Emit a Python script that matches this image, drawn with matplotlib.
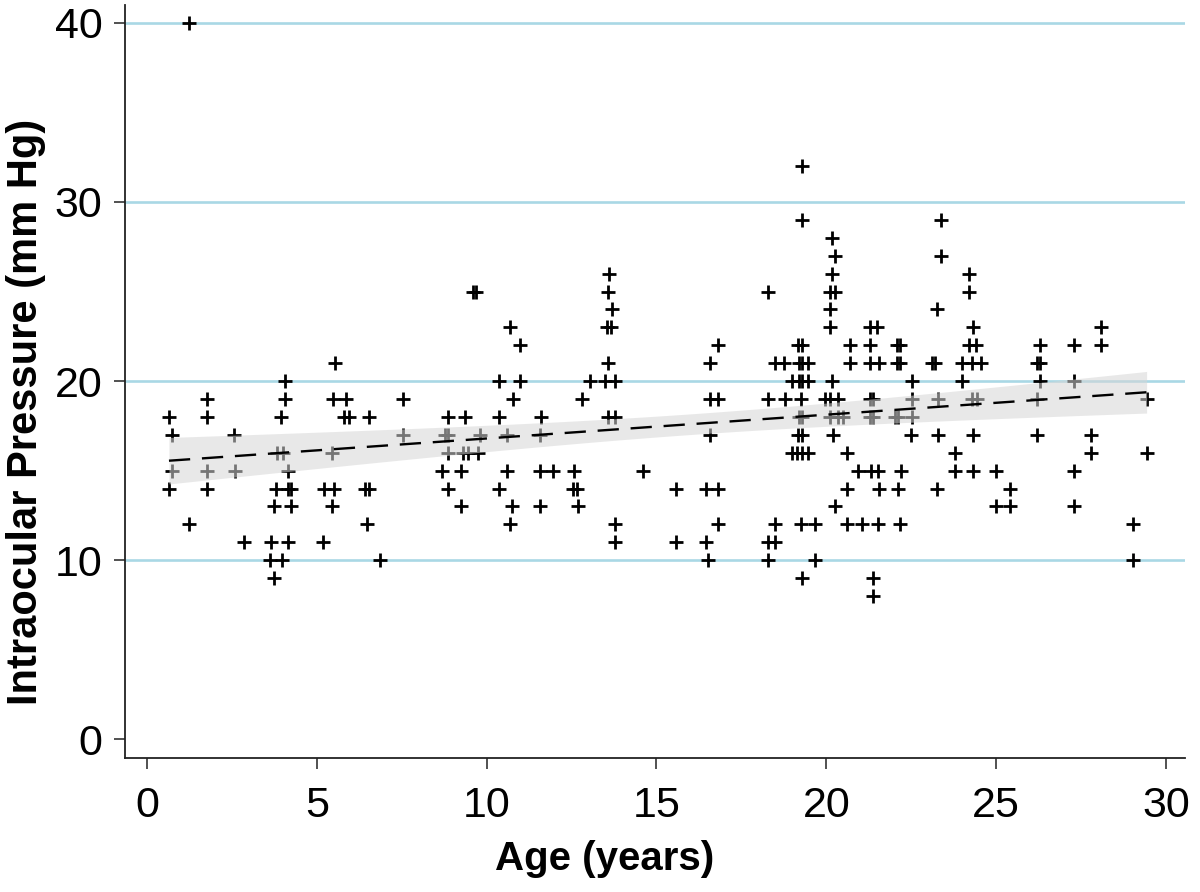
import numpy as np
import matplotlib
matplotlib.use("Agg")
import matplotlib.pyplot as plt

plt.rcParams['font.family'] = ['Liberation Sans', 'DejaVu Sans']

# Age (years) of each subject, grouped by IOP level (see iop list below)
age = [
    1.25,                                                        # 40
    19.30,                                                       # 32
    19.30, 23.39,                                                # 29
    20.18,                                                       # 28
    20.25, 23.39,                                                # 27
    13.6, 20.18, 24.2,                                           # 26
    9.6, 9.7, 13.58, 18.29, 20.1, 20.25, 24.2,                   # 25
    13.68, 20.1, 23.27,                                          # 24
    10.69, 13.55, 13.65, 20.1, 21.28, 21.5, 24.33, 28.1,         # 23
    10.98, 16.82, 19.18, 19.28, 20.7, 21.28, 22.07, 22.17, 24.2, 24.4, 26.3, 27.3, 28.1,  # 22
    5.55, 13.58, 16.59, 18.5, 18.75, 19.2, 19.3, 19.45, 20.7, 21.28, 21.55, 22.07, 22.17,
    23.1, 23.2, 24.0, 24.3, 24.55, 26.2, 26.3,                   # 21
    4.06, 10.37, 10.98, 13.04, 13.48, 13.78, 19.0, 19.2, 19.3, 19.45, 20.18, 22.51, 24.0,
    26.3, 27.3,                                                  # 20
    1.76, 4.06, 5.48, 5.86, 7.55, 10.78, 12.8, 16.57, 16.82, 18.29, 18.78, 19.27, 19.95,
    20.1, 20.35, 21.28, 21.38, 22.51, 23.3, 24.3, 24.45, 26.2, 29.43,   # 19
    0.65, 1.76, 3.96, 5.8, 5.95, 6.55, 8.87, 9.36, 10.37, 11.59, 13.58, 13.78, 19.2, 19.3,
    20.1, 20.35, 20.5, 21.28, 21.38, 22.02, 22.12, 22.51,        # 18
    0.75, 2.56, 7.55, 8.78, 8.87, 9.8, 10.59, 11.57, 16.59, 19.18, 19.28, 20.2, 22.48, 23.3,
    24.33, 26.2, 27.8,                                           # 17
    3.82, 4.01, 5.45, 8.85, 9.3, 9.45, 9.75, 19.0, 19.15, 19.3, 19.45, 20.6, 23.8, 27.8,
    29.43,                                                       # 16
    0.73, 1.76, 2.59, 4.14, 8.70, 9.26, 10.59, 11.57, 11.96, 12.58, 14.59, 20.94, 21.33,
    21.52, 22.2, 23.8, 24.33, 25.0, 27.3,                        # 15
    0.65, 1.76, 3.80, 4.16, 4.25, 5.2, 5.5, 6.43, 6.53, 8.87, 10.37, 12.55, 12.65, 15.59,
    16.47, 16.82, 20.6, 21.55, 22.12, 23.27, 25.4,               # 14
    3.74, 4.25, 5.44, 9.26, 10.75, 11.57, 12.7, 20.25, 25.0, 25.4, 27.3,   # 13
    1.25, 6.47, 10.69, 13.78, 16.82, 18.49, 19.27, 19.68, 20.6, 21.04, 21.53, 22.17, 29.03,  # 12
    2.86, 3.64, 4.16, 5.17, 13.78, 15.59, 16.47, 18.29, 18.49,   # 11
    3.62, 3.99, 6.86, 16.52, 18.29, 19.68, 29.03,                # 10
    3.74, 19.30, 21.38,                                          # 9
    21.38,                                                       # 8
]

# Intraocular pressure (mm Hg), same order as age
iop = [
    40,
    32,
    29, 29,
    28,
    27, 27,
    26, 26, 26,
    25, 25, 25, 25, 25, 25, 25,
    24, 24, 24,
    23, 23, 23, 23, 23, 23, 23, 23,
    22, 22, 22, 22, 22, 22, 22, 22, 22, 22, 22, 22, 22,
    21, 21, 21, 21, 21, 21, 21, 21, 21, 21, 21, 21, 21,
    21, 21, 21, 21, 21, 21, 21,
    20, 20, 20, 20, 20, 20, 20, 20, 20, 20, 20, 20, 20,
    20, 20,
    19, 19, 19, 19, 19, 19, 19, 19, 19, 19, 19, 19, 19,
    19, 19, 19, 19, 19, 19, 19, 19, 19, 19,
    18, 18, 18, 18, 18, 18, 18, 18, 18, 18, 18, 18, 18, 18,
    18, 18, 18, 18, 18, 18, 18, 18,
    17, 17, 17, 17, 17, 17, 17, 17, 17, 17, 17, 17, 17, 17,
    17, 17, 17,
    16, 16, 16, 16, 16, 16, 16, 16, 16, 16, 16, 16, 16, 16,
    16,
    15, 15, 15, 15, 15, 15, 15, 15, 15, 15, 15, 15, 15,
    15, 15, 15, 15, 15, 15,
    14, 14, 14, 14, 14, 14, 14, 14, 14, 14, 14, 14, 14, 14,
    14, 14, 14, 14, 14, 14, 14,
    13, 13, 13, 13, 13, 13, 13, 13, 13, 13, 13,
    12, 12, 12, 12, 12, 12, 12, 12, 12, 12, 12, 12, 12,
    11, 11, 11, 11, 11, 11, 11, 11, 11,
    10, 10, 10, 10, 10, 10, 10,
    9, 9, 9,
    8,
]

x_ticks = [0, 5, 10, 15, 20, 25, 30]
y_ticks = [0, 10, 20, 30, 40]

x = np.array(age, dtype=float)
y = np.array(iop, dtype=float)
assert len(x) == len(y)

fig = plt.figure(figsize=(12, 8.92), dpi=100)
ax = fig.add_axes([0.104, 0.150, 0.8835, 0.8444])

# scatter
ax.plot(x, y, linestyle='none', marker='+', color='black',
        markersize=10.5, markeredgewidth=2.0, zorder=3)

# linear fit with 95% CI
n = len(x)
b1, b0 = np.polyfit(x, y, 1)
xs = np.linspace(x.min(), x.max(), 200)
yhat = b0 + b1 * xs
resid = y - (b0 + b1 * x)
s = np.sqrt(np.sum(resid ** 2) / (n - 2))
sxx = np.sum((x - x.mean()) ** 2)
se = s * np.sqrt(1.0 / n + (xs - x.mean()) ** 2 / sxx)
tval = 1.97
ax.fill_between(xs, yhat - tval * se, yhat + tval * se, color='#d6d6d6',
                alpha=0.55, linewidth=0, zorder=4)
ax.plot(xs, yhat, color='black', linewidth=1.7, dashes=(9, 5), zorder=5)

ax.set_xlim(-0.65, 30.56)
ax.set_ylim(-1.06, 41.0)
ax.set_xticks(x_ticks)
ax.set_yticks(y_ticks)

ax.yaxis.grid(True, color='#a9d8e5', linewidth=1.9, zorder=0)
ax.set_axisbelow(True)
ax.get_ygridlines()[0].set_visible(False)

for side in ['top', 'right']:
    ax.spines[side].set_visible(False)
for side in ['left', 'bottom']:
    ax.spines[side].set_linewidth(1.3)
    ax.spines[side].set_color('#222222')

ax.tick_params(axis='both', labelsize=31, length=8, width=1.1, color='#222222',
               direction='out')
ax.tick_params(axis='x', pad=12)
ax.tick_params(axis='y', pad=8)

ax.set_xlabel('Age (years)', fontsize=29, fontweight='bold', labelpad=10)
ax.set_ylabel('Intraocular Pressure (mm Hg)', fontsize=30, fontweight='bold',
              labelpad=6)
ax.xaxis.label.set_x(0.453)
ax.yaxis.label.set_y(0.46)

fig.savefig('out.png', dpi=100)
